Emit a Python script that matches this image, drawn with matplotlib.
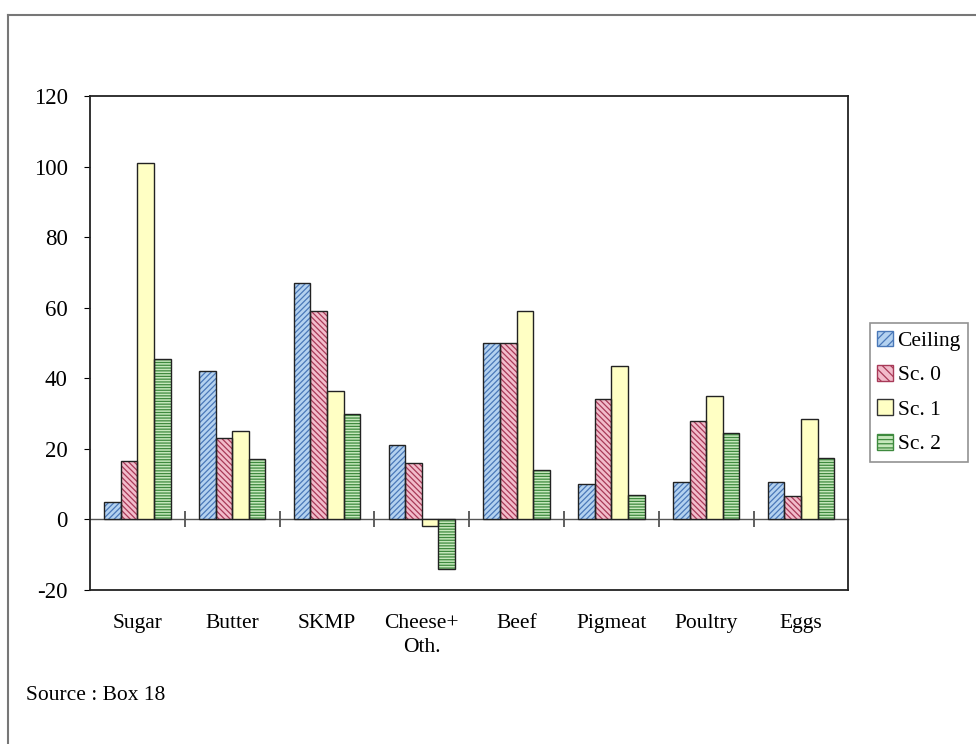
import numpy as np
import matplotlib.pyplot as plt
from matplotlib.patches import Patch

# products and series values
products = ['Sugar', 'Butter', 'SKMP', 'Cheese+\nOth.', 'Beef', 'Pigmeat', 'Poultry', 'Eggs']
series = ['Ceiling', 'Sc. 0', 'Sc. 1', 'Sc. 2']
ceiling = [5, 42, 67, 21, 50, 10, 10.5, 10.5]
sc0 = [16.5, 23, 59, 16, 50, 34, 28, 6.5]
sc1 = [101, 25, 36.5, -2, 59, 43.5, 35, 28.5]
sc2 = [45.5, 17, 30, -14, 14, 7, 24.5, 17.5]

faces = ['#b4d2f0', '#f2bccb', '#ffffc4', '#c6e8bc']
hatch_cols = ['#4a78b8', '#a83a58', '#ffffc4', '#3e8a3e']
hatches = ['//////', '\\\\\\\\\\\\', '', '------']

plt.rcParams['font.family'] = ['Liberation Serif', 'DejaVu Serif']
plt.rcParams['axes.unicode_minus'] = False
plt.rcParams['hatch.linewidth'] = 0.9

fig = plt.figure(figsize=(9.76, 7.44), dpi=100)
ax = fig.add_axes([0.0922, 0.207, 0.777, 0.664])

x = np.arange(len(products))
w = 0.175
for i, vals in enumerate([ceiling, sc0, sc1, sc2]):
    pos = x + (i - 1.5) * w
    ax.bar(pos, vals, w, color=faces[i], edgecolor=hatch_cols[i], hatch=hatches[i], linewidth=0, zorder=2)
    ax.bar(pos, vals, w, fill=False, edgecolor='#222222', linewidth=1.0, zorder=3)

ax.set_xlim(-0.5, len(products) - 0.5)
ax.set_ylim(-20, 120)
ax.set_yticks(np.arange(-20, 121, 20))
ax.tick_params(axis='y', direction='out', length=4, labelsize=16.5, pad=12)
ax.set_xticks(x)
ax.set_xticklabels(products, fontsize=15.5, linespacing=1.4, va='top')
ax.tick_params(axis='x', length=0, pad=17)
for s in ax.spines.values():
    s.set_linewidth(1.3)
    s.set_color('#222222')

# zero line with ticks between the product groups
zero = ax.secondary_xaxis(0, transform=ax.transData)
zero.set_xticks(np.arange(0.5, len(products) - 1, 1))
zero.set_xticklabels([])
zero.tick_params(direction='inout', length=12, width=1.2, colors='#444444')
zero.spines['bottom'].set_color('#555555')
zero.spines['bottom'].set_linewidth(1.0)

handles = [Patch(facecolor=faces[i], edgecolor=hatch_cols[i] if hatches[i] else '#333333',
                 hatch=hatches[i][:4], label=series[i]) for i in range(4)]
leg = ax.legend(handles=handles, loc='center left', bbox_to_anchor=(1.028, 0.40),
                fontsize=15.5, frameon=True, fancybox=False, handlelength=0.75, handleheight=0.75,
                handletextpad=0.2, borderpad=0.35, labelspacing=0.65, borderaxespad=0)
leg.get_frame().set_edgecolor('#777777')
leg.get_frame().set_linewidth(1.2)

fig.text(26 / 976, 1 - 696 / 744, 'Source : Box 18', fontsize=15.5, va='center', ha='left')

# outer frame lines (top and left)
fig.add_artist(plt.Line2D([8 / 976, 1], [1 - 15 / 744, 1 - 15 / 744], color='#777777', lw=1.5))
fig.add_artist(plt.Line2D([8 / 976, 8 / 976], [0, 1 - 15 / 744], color='#777777', lw=1.5))

fig.savefig('out.png', dpi=100)
